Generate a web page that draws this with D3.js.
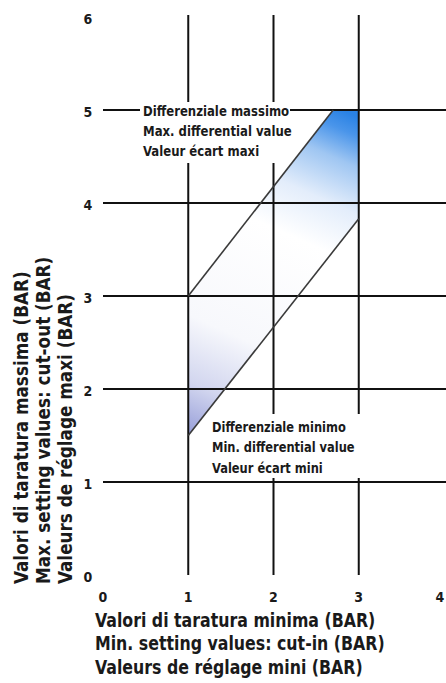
<!DOCTYPE html>
<html>
<head>
<meta charset="utf-8">
<script src="https://cdn.jsdelivr.net/npm/d3@7"></script>
<style>
  html, body { margin: 0; padding: 0; background: #fff; }
  svg { display: block; }
  text { font-family: "Liberation Sans Narrow", "DejaVu Sans Condensed", "Arial Narrow", sans-serif; font-weight: bold; fill: #1a1a1a; }
</style>
</head>
<body>
<svg id="chart" width="446" height="683"></svg>
<script>
// data
const xTicks = [0, 1, 2, 3, 4];
const yTicks = [0, 1, 2, 3, 4, 5, 6];
const vGrid = [1, 2, 3];
const hGrid = [1, 2, 3, 4, 5];
const maxDiffLine = [[1, 3], [2.7, 5]];
const minDiffLine = [[1, 1.5], [3, 3.83]];
const diffArea = [[1, 1.5], [1, 3], [2.7, 5], [3, 5], [3, 3.83]];
const maxLabel = ["Differenziale massimo", "Max. differential value", "Valeur écart maxi"];
const minLabel = ["Differenziale minimo", "Min. differential value", "Valeur écart mini"];
const xTitle = ["Valori di taratura minima (BAR)", "Min. setting values: cut-in (BAR)", "Valeurs de réglage mini (BAR)"];
const yTitle = ["Valori di taratura massima (BAR)", "Max. setting values: cut-out (BAR)", "Valeurs de réglage maxi (BAR)"];

const W = 446, H = 683;
const x = d3.scaleLinear().domain([0, 4]).range([103, 444]);
const y = d3.scaleLinear().domain([0, 6]).range([575, 17]);

const svg = d3.select("#chart");

// gradient for the differential zone
const defs = svg.append("defs");
const grad = defs.append("linearGradient")
    .attr("id", "zone")
    .attr("gradientUnits", "userSpaceOnUse")
    .attr("x1", x(2.8)).attr("y1", y(5))
    .attr("x2", x(1.1)).attr("y2", y(1.5));
[[0, "#2a82e4"], [0.05, "#4a95ea"], [0.13, "#9fc6f2"], [0.25, "#e3edfb"],
 [0.38, "#ffffff"], [0.7, "#f7f8fc"], [0.87, "#d2d6ef"], [1, "#9aa1da"]]
    .forEach(([o, c]) => grad.append("stop").attr("offset", o).attr("stop-color", c));

const line = d3.line().x(d => x(d[0])).y(d => y(d[1]));

svg.append("path")
    .attr("d", line(diffArea) + "Z")
    .attr("fill", "url(#zone)");

// grid
svg.append("g").selectAll("line").data(vGrid).join("line")
    .attr("x1", d => x(d)).attr("x2", d => x(d))
    .attr("y1", y(6) - 2).attr("y2", y(0))
    .attr("stroke", "#111").attr("stroke-width", 2);

svg.append("g").selectAll("line").data(hGrid).join("line")
    .attr("x1", x(0)).attr("x2", W)
    .attr("y1", d => y(d)).attr("y2", d => y(d))
    .attr("stroke", "#111").attr("stroke-width", 2);

// white boxes behind annotations
svg.append("rect").attr("x", 140).attr("y", 102).attr("width", 150).attr("height", 61).attr("fill", "#fff");
svg.append("rect").attr("x", 206).attr("y", 414).attr("width", 160).attr("height", 64).attr("fill", "#fff");

// differential lines
[maxDiffLine, minDiffLine].forEach(l => {
    svg.append("path")
        .attr("d", line(l))
        .attr("fill", "none")
        .attr("stroke", "#3a3a3a")
        .attr("stroke-width", 1.6);
});

// annotations (squeezed a bit to look like a condensed face)
svg.append("g").attr("transform", "translate(143,0) scale(0.93,1)")
  .selectAll("text").data(maxLabel).join("text")
    .attr("x", 0).attr("y", (d, i) => 116.5 + i * 20)
    .attr("font-size", 14)
    .text(d => d);

svg.append("g").attr("transform", "translate(212,0) scale(0.91,1)")
  .selectAll("text").data(minLabel).join("text")
    .attr("x", 0).attr("y", (d, i) => 432 + i * 20.5)
    .attr("font-size", 14)
    .text(d => d);

// tick labels
svg.append("g").selectAll("text").data(yTicks).join("text")
    .attr("x", 88).attr("y", d => y(d) + 2)
    .attr("text-anchor", "middle")
    .attr("dominant-baseline", "central")
    .attr("font-size", 14)
    .text(d => d);

svg.append("g").selectAll("text").data(xTicks).join("text")
    .attr("x", d => Math.min(x(d), W - 6)).attr("y", 597)
    .attr("text-anchor", "middle")
    .attr("dominant-baseline", "central")
    .attr("font-size", 14)
    .text(d => d);

// axis titles
svg.append("g").attr("transform", "translate(95,0) scale(0.9,1)")
  .selectAll("text").data(xTitle).join("text")
    .attr("x", 0).attr("y", (d, i) => 627 + i * 23.5)
    .attr("font-size", 19.5)
    .text(d => d);

svg.append("g").selectAll("text").data(yTitle).join("text")
    .attr("transform", (d, i) => `translate(${21 + i * 22},584) rotate(-90) scale(0.96,1)`)
    .attr("dominant-baseline", "central")
    .attr("font-size", 19.5)
    .text(d => d);
</script>
</body>
</html>
